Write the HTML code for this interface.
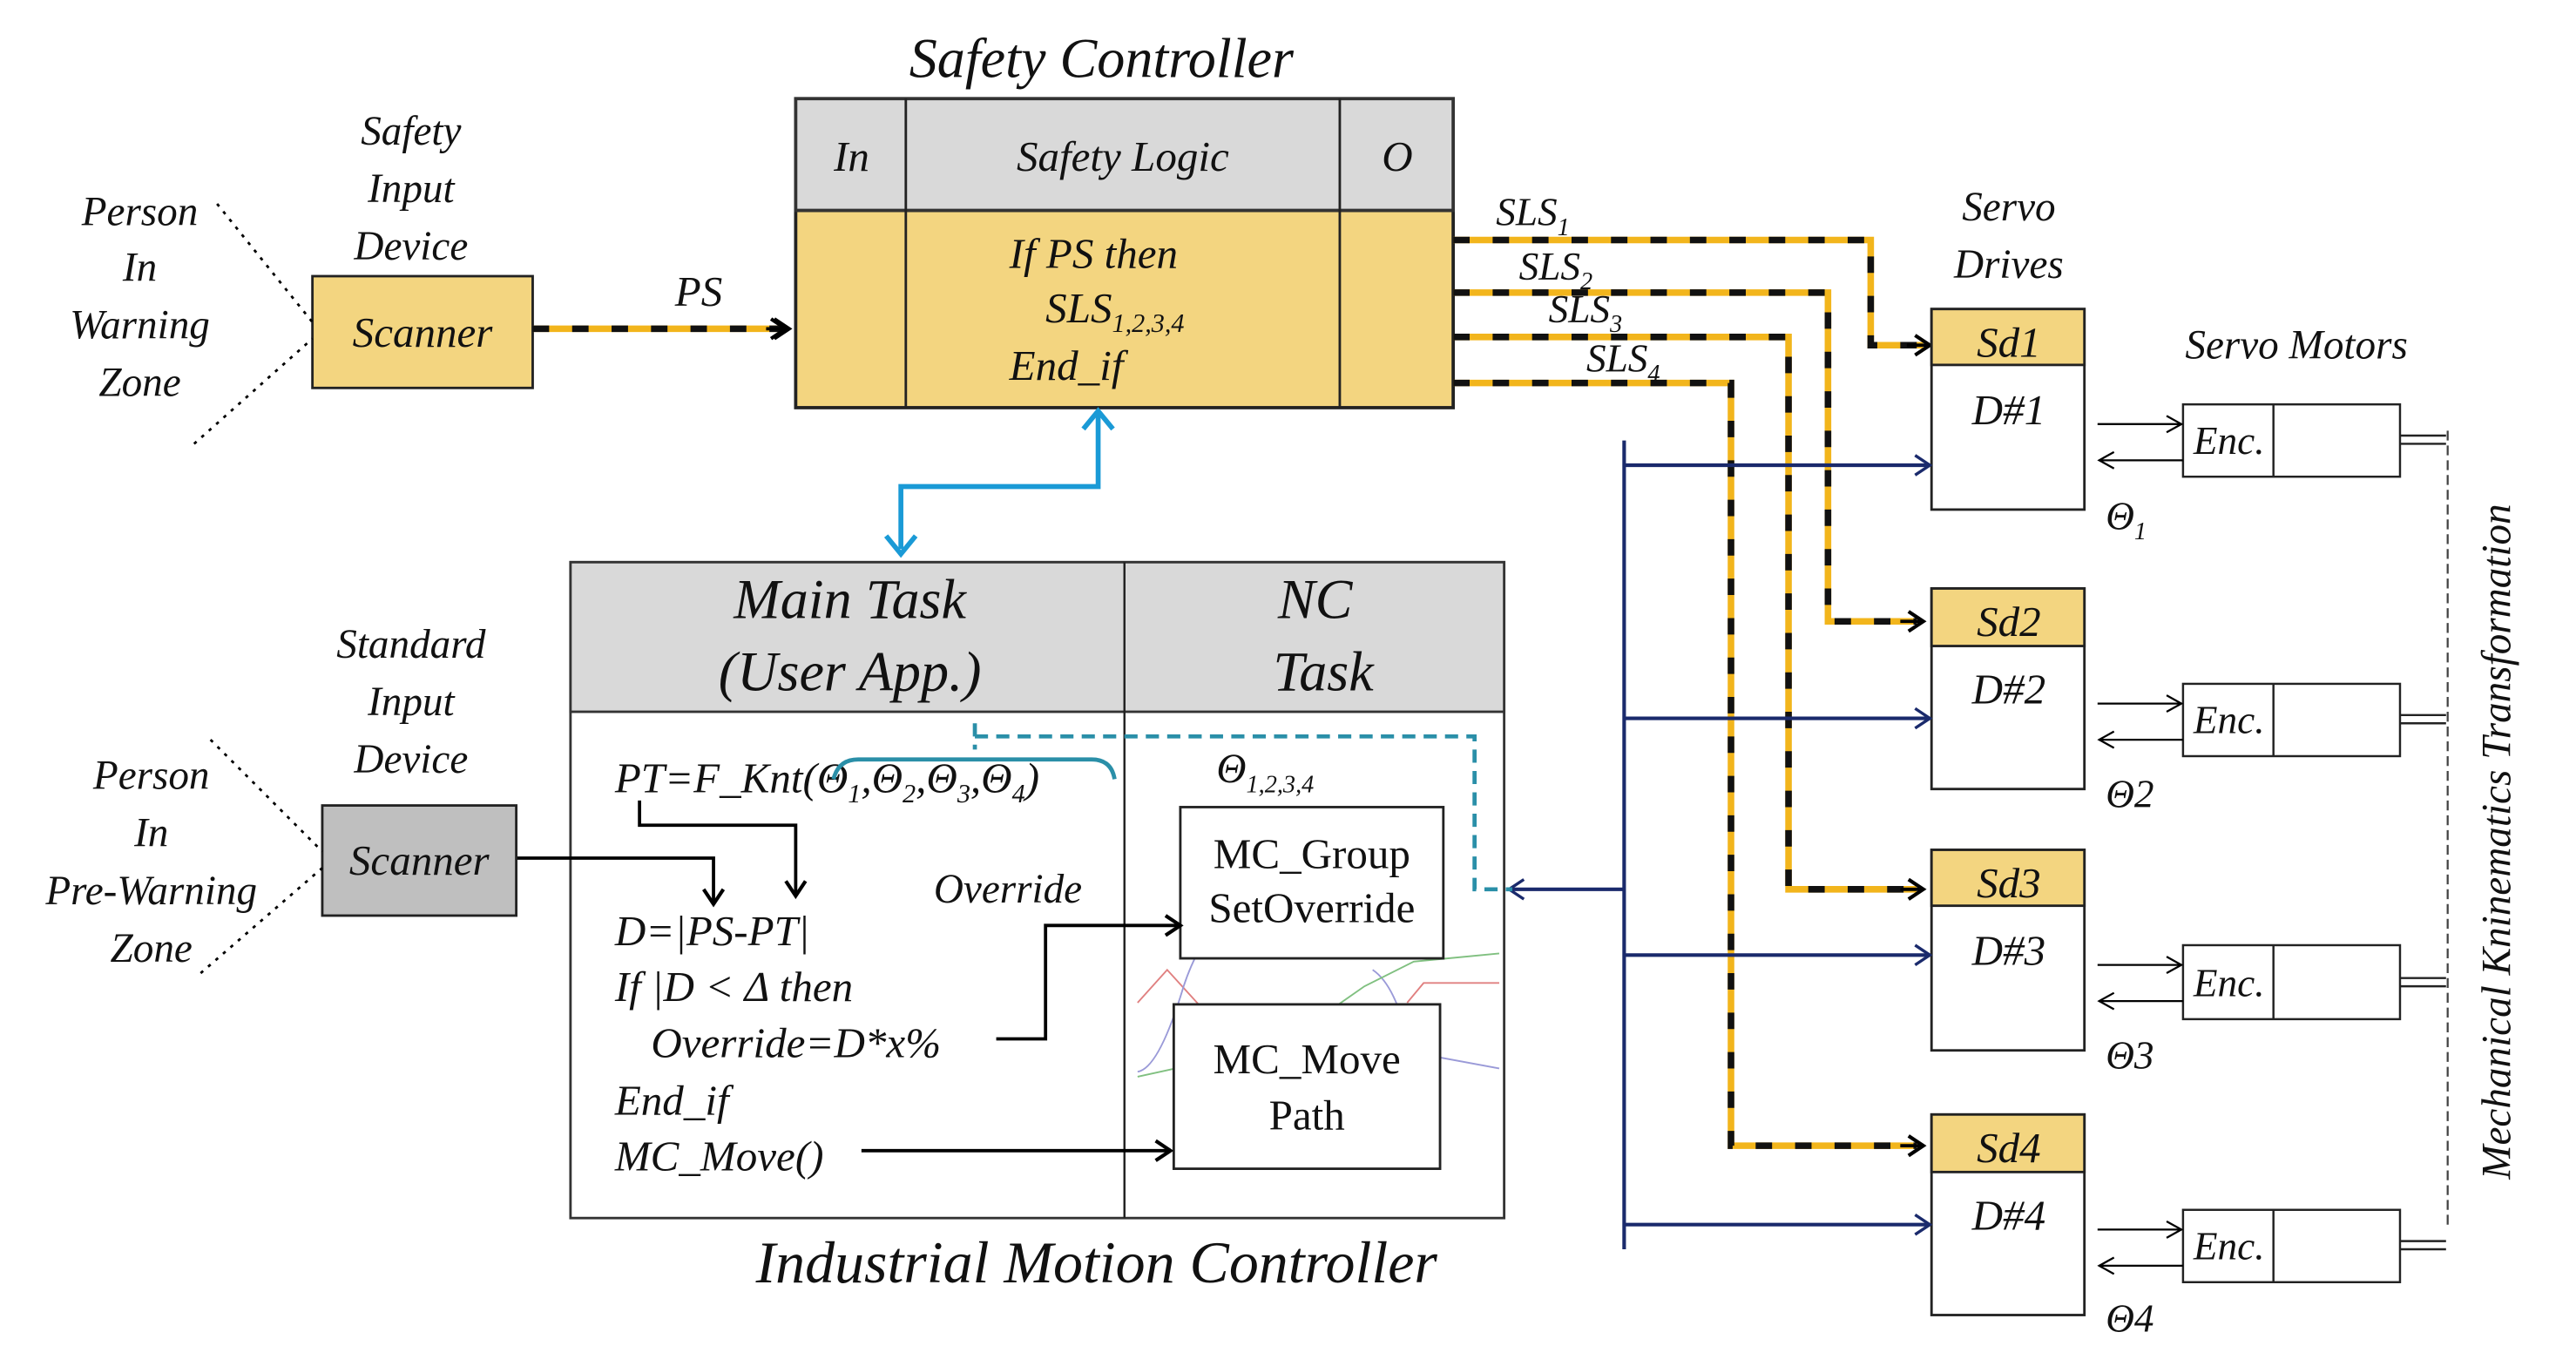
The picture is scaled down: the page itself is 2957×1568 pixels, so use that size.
<!DOCTYPE html>
<html><head><meta charset="utf-8"><style>html,body{margin:0;padding:0;background:#fff}svg{display:block}text{font-family:"Liberation Serif",serif;font-style:italic;fill:#111}</style></head><body>
<svg width="2957" height="1568" viewBox="0 0 1567 831" xmlns="http://www.w3.org/2000/svg">
<defs>
<marker id="ab" markerWidth="14" markerHeight="14" refX="11" refY="7" orient="auto" markerUnits="userSpaceOnUse"><path d="M2,1 L11,7 L2,13" fill="none" stroke="#000" stroke-width="2.2"/></marker>
<marker id="an" markerWidth="14" markerHeight="14" refX="11" refY="7" orient="auto" markerUnits="userSpaceOnUse"><path d="M2,1 L11,7 L2,13" fill="none" stroke="#1a2a6c" stroke-width="1.8"/></marker>
<marker id="ac" markerWidth="16" markerHeight="16" refX="8" refY="3" orient="auto-start-reverse" markerUnits="userSpaceOnUse"><path d="M1,11 L8,2 L15,11" fill="none" stroke="#1a9ad6" stroke-width="3" transform="rotate(90 8 8)"/></marker>
<marker id="ak" markerWidth="12" markerHeight="12" refX="10" refY="6" orient="auto" markerUnits="userSpaceOnUse"><path d="M1,1 L10,6 L1,11" fill="none" stroke="#000" stroke-width="1.2"/></marker>
</defs>

<!-- Safety controller -->
<text x="670" y="47" font-size="34" text-anchor="middle">Safety Controller</text>
<rect x="484" y="128" width="400" height="120" fill="#f3d580" stroke="#222" stroke-width="2"/>
<rect x="484" y="60" width="400" height="68" fill="#d9d9d9" stroke="#333" stroke-width="2"/>
<line x1="551" y1="60" x2="551" y2="248" stroke="#222" stroke-width="1.5"/>
<line x1="815" y1="60" x2="815" y2="248" stroke="#222" stroke-width="1.5"/>
<text x="518" y="104" font-size="26" text-anchor="middle">In</text>
<text x="683" y="104" font-size="26" text-anchor="middle">Safety Logic</text>
<text x="850" y="104" font-size="26" text-anchor="middle">O</text>
<text x="614" y="163" font-size="26">If PS then</text>
<text x="636" y="196" font-size="26">SLS<tspan font-size="16" dy="6">1,2,3,4</tspan></text>
<text x="614" y="231" font-size="26">End_if</text>

<!-- Safety input -->
<text x="250" y="88" font-size="25" text-anchor="middle">Safety</text>
<text x="250" y="123" font-size="25" text-anchor="middle">Input</text>
<text x="250" y="158" font-size="25" text-anchor="middle">Device</text>
<rect x="190" y="168" width="134" height="68" fill="#f3d580" stroke="#222" stroke-width="1.5"/>
<text x="257" y="211" font-size="26" text-anchor="middle">Scanner</text>
<text x="85" y="137" font-size="25" text-anchor="middle">Person</text>
<text x="85" y="171" font-size="25" text-anchor="middle">In</text>
<text x="85" y="206" font-size="25" text-anchor="middle">Warning</text>
<text x="85" y="241" font-size="25" text-anchor="middle">Zone</text>
<line x1="132" y1="124" x2="190" y2="196" stroke="#000" stroke-width="1.5" stroke-dasharray="2,4"/>
<line x1="118" y1="270" x2="190" y2="206" stroke="#000" stroke-width="1.5" stroke-dasharray="2,4"/>

<!-- PS line -->
<text x="425" y="186" font-size="26" text-anchor="middle">PS</text>
<g fill="none" stroke-width="4">
<path d="M324,200 H478" stroke="#f2b51c"/>
<path d="M324,200 H478" stroke="#111" stroke-dasharray="10,14"/>
<path d="M324,200 H478" stroke="none" marker-end="url(#ab)"/>
</g>
<line x1="466" y1="200" x2="480" y2="200" stroke="#000" stroke-width="2" marker-end="url(#ab)"/>

<!-- SLS lines -->
<g fill="none" stroke-width="4">
<path id="s1" d="M884,146 H1138 V210 H1170" stroke="#f2b51c"/>
<path d="M884,146 H1138 V210 H1170" stroke="#111" stroke-dasharray="10,14"/>
<path d="M884,178 H1112 V378 H1166" stroke="#f2b51c"/>
<path d="M884,178 H1112 V378 H1166" stroke="#111" stroke-dasharray="10,14"/>
<path d="M884,205 H1088 V541 H1166" stroke="#f2b51c"/>
<path d="M884,205 H1088 V541 H1166" stroke="#111" stroke-dasharray="10,14"/>
<path d="M884,233 H1053 V697 H1166" stroke="#f2b51c"/>
<path d="M884,233 H1053 V697 H1166" stroke="#111" stroke-dasharray="10,14"/>
</g>
<g stroke="#000" stroke-width="2">
<line x1="1160" y1="210" x2="1174" y2="210" marker-end="url(#ab)"/>
<line x1="1156" y1="378" x2="1170" y2="378" marker-end="url(#ab)"/>
<line x1="1156" y1="541" x2="1170" y2="541" marker-end="url(#ab)"/>
<line x1="1156" y1="697" x2="1170" y2="697" marker-end="url(#ab)"/>
</g>
<text x="910" y="137" font-size="24">SLS<tspan font-size="15" dy="6">1</tspan></text>
<text x="924" y="170" font-size="24">SLS<tspan font-size="15" dy="6">2</tspan></text>
<text x="942" y="196" font-size="24">SLS<tspan font-size="15" dy="6">3</tspan></text>
<text x="965" y="226" font-size="24">SLS<tspan font-size="15" dy="6">4</tspan></text>

<!-- Servo drives -->
<text x="1222" y="134" font-size="25" text-anchor="middle">Servo</text>
<text x="1222" y="169" font-size="25" text-anchor="middle">Drives</text>
<g stroke="#222" stroke-width="1.5">
<rect x="1175" y="188" width="93" height="122" fill="#fff"/><rect x="1175" y="188" width="93" height="34" fill="#f3d580"/>
<rect x="1175" y="358" width="93" height="122" fill="#fff"/><rect x="1175" y="358" width="93" height="35" fill="#f3d580"/>
<rect x="1175" y="517" width="93" height="122" fill="#fff"/><rect x="1175" y="517" width="93" height="34" fill="#f3d580"/>
<rect x="1175" y="678" width="93" height="122" fill="#fff"/><rect x="1175" y="678" width="93" height="35" fill="#f3d580"/>
</g>
<g font-size="26" text-anchor="middle">
<text x="1222" y="217">Sd1</text><text x="1222" y="258">D#1</text>
<text x="1222" y="387">Sd2</text><text x="1222" y="428">D#2</text>
<text x="1222" y="546">Sd3</text><text x="1222" y="587">D#3</text>
<text x="1222" y="707">Sd4</text><text x="1222" y="748">D#4</text>
</g>
<g font-size="24">
<text x="1281" y="322">Θ<tspan font-size="15" dy="6">1</tspan></text>
<text x="1281" y="491">Θ2</text>
<text x="1281" y="650">Θ3</text>
<text x="1281" y="810">Θ4</text>
</g>

<!-- Servo motors -->
<text x="1397" y="218" font-size="25" text-anchor="middle">Servo Motors</text>
<g stroke="#222" stroke-width="1.3" fill="#fff">
<rect x="1328" y="246" width="132" height="44"/><line x1="1383" y1="246" x2="1383" y2="290"/>
<rect x="1328" y="416" width="132" height="44"/><line x1="1383" y1="416" x2="1383" y2="460"/>
<rect x="1328" y="575" width="132" height="45"/><line x1="1383" y1="575" x2="1383" y2="620"/>
<rect x="1328" y="736" width="132" height="44"/><line x1="1383" y1="736" x2="1383" y2="780"/>
</g>
<g font-size="24" text-anchor="middle">
<text x="1356" y="276">Enc.</text><text x="1356" y="446">Enc.</text><text x="1356" y="606">Enc.</text><text x="1356" y="766">Enc.</text>
</g>
<g stroke="#222" stroke-width="1.3">
<line x1="1460" y1="265" x2="1488" y2="265"/><line x1="1460" y1="270" x2="1488" y2="270"/>
<line x1="1460" y1="435" x2="1488" y2="435"/><line x1="1460" y1="440" x2="1488" y2="440"/>
<line x1="1460" y1="595" x2="1488" y2="595"/><line x1="1460" y1="600" x2="1488" y2="600"/>
<line x1="1460" y1="755" x2="1488" y2="755"/><line x1="1460" y1="760" x2="1488" y2="760"/>
</g>
<line x1="1489" y1="262" x2="1489" y2="748" stroke="#444" stroke-width="1.2" stroke-dasharray="6,3"/>
<text transform="translate(1527,512) rotate(-90)" font-size="25" text-anchor="middle">Mechanical Kninematics Transformation</text>
<g stroke="#000" stroke-width="1.2">
<line x1="1276" y1="258" x2="1327" y2="258" marker-end="url(#ak)"/><line x1="1328" y1="280" x2="1277" y2="280" marker-end="url(#ak)"/>
<line x1="1276" y1="428" x2="1327" y2="428" marker-end="url(#ak)"/><line x1="1328" y1="450" x2="1277" y2="450" marker-end="url(#ak)"/>
<line x1="1276" y1="587" x2="1327" y2="587" marker-end="url(#ak)"/><line x1="1328" y1="609" x2="1277" y2="609" marker-end="url(#ak)"/>
<line x1="1276" y1="748" x2="1327" y2="748" marker-end="url(#ak)"/><line x1="1328" y1="770" x2="1277" y2="770" marker-end="url(#ak)"/>
</g>

<!-- Navy bus -->
<g stroke="#1a2a6c" stroke-width="2.2" fill="none">
<line x1="988" y1="268" x2="988" y2="760"/>
<line x1="988" y1="283" x2="1174" y2="283" marker-end="url(#an)"/>
<line x1="988" y1="437" x2="1174" y2="437" marker-end="url(#an)"/>
<line x1="988" y1="581" x2="1174" y2="581" marker-end="url(#an)"/>
<line x1="988" y1="745" x2="1174" y2="745" marker-end="url(#an)"/>
<line x1="988" y1="541" x2="918" y2="541" marker-end="url(#an)"/>
</g>

<!-- Blue bidirectional -->
<path d="M668,252 V296 H548 V334" fill="none" stroke="#1a9ad6" stroke-width="3"/>
<path d="M659,261 L668,250 L677,261" fill="none" stroke="#1a9ad6" stroke-width="3"/>
<path d="M539,326 L548,337 L557,326" fill="none" stroke="#1a9ad6" stroke-width="3"/>

<!-- Main table -->
<rect x="347" y="342" width="568" height="399" fill="#fff" stroke="#333" stroke-width="1.5"/>
<rect x="347" y="342" width="568" height="91" fill="#d9d9d9" stroke="#333" stroke-width="1.5"/>
<line x1="684" y1="342" x2="684" y2="741" stroke="#222" stroke-width="1.3"/>
<g font-size="34" text-anchor="middle">
<text x="517" y="376">Main Task</text><text x="517" y="420">(User App.)</text>
<text x="800" y="376">NC</text><text x="805" y="420">Task</text>
</g>
<!-- faint curves -->
<g fill="none" stroke-width="1">
<path d="M692,610 L710,590 L730,612 L750,635" stroke="#e08080"/>
<path d="M856,610 L866,598 L912,598" stroke="#e08080"/>
<path d="M692,652 Q705,650 720,600 Q730,570 745,560" stroke="#9a9ad8"/>
<path d="M835,590 Q850,600 858,640 L912,650" stroke="#9a9ad8"/>
<path d="M692,655 L715,650 M780,635 L830,600 L860,585 L912,580" stroke="#80c080"/>
</g>
<g font-size="26">
<text x="374" y="482">PT=F_Knt(Θ<tspan font-size="16" dy="6">1</tspan><tspan dy="-6">,Θ</tspan><tspan font-size="16" dy="6">2</tspan><tspan dy="-6">,Θ</tspan><tspan font-size="16" dy="6">3</tspan><tspan dy="-6">,Θ</tspan><tspan font-size="16" dy="6">4</tspan><tspan dy="-6">)</tspan></text>
<text x="374" y="575">D=|PS-PT|</text>
<text x="374" y="609">If |D &lt; Δ then</text>
<text x="396" y="643">Override=D*x%</text>
<text x="374" y="678">End_if</text>
<text x="374" y="712">MC_Move()</text>
<text x="568" y="549" font-size="25">Override</text>
<text x="740" y="476" font-size="25">Θ<tspan font-size="15" dy="6">1,2,3,4</tspan></text>
</g>
<g stroke="#222" stroke-width="1.5" fill="#fff">
<rect x="718" y="491" width="160" height="92"/>
<rect x="714" y="611" width="162" height="100"/>
</g>
<g font-size="26" text-anchor="middle" style="font-style:normal">
<text x="798" y="528" style="font-style:normal">MC_Group</text>
<text x="798" y="561" style="font-style:normal">SetOverride</text>
<text x="795" y="653" style="font-style:normal">MC_Move</text>
<text x="795" y="687" style="font-style:normal">Path</text>
</g>
<!-- teal bracket and dashed -->
<path d="M507,474 Q510,462 522,462 H664 Q676,462 678,474" fill="none" stroke="#2a8fa8" stroke-width="2.5"/>
<path d="M593,440 V456 M593,448 H897 V541 H920" fill="none" stroke="#2a8fa8" stroke-width="2.5" stroke-dasharray="8,5"/>
<!-- black arrows -->
<g fill="none" stroke="#000" stroke-width="2">
<path d="M314,522 H434 V550" marker-end="url(#ab)"/>
<path d="M389,487 V502 H484 V545" marker-end="url(#ab)"/>
<path d="M606,632 H636 V563 H718" marker-end="url(#ab)"/>
<path d="M524,700 H712" marker-end="url(#ab)"/>
</g>

<!-- Standard input -->
<text x="250" y="400" font-size="25" text-anchor="middle">Standard</text>
<text x="250" y="435" font-size="25" text-anchor="middle">Input</text>
<text x="250" y="470" font-size="25" text-anchor="middle">Device</text>
<rect x="196" y="490" width="118" height="67" fill="#bfbfbf" stroke="#222" stroke-width="1.5"/>
<text x="255" y="532" font-size="26" text-anchor="middle">Scanner</text>
<text x="92" y="480" font-size="25" text-anchor="middle">Person</text>
<text x="92" y="515" font-size="25" text-anchor="middle">In</text>
<text x="92" y="550" font-size="25" text-anchor="middle">Pre-Warning</text>
<text x="92" y="585" font-size="25" text-anchor="middle">Zone</text>
<line x1="128" y1="450" x2="196" y2="518" stroke="#000" stroke-width="1.5" stroke-dasharray="2,4"/>
<line x1="122" y1="592" x2="196" y2="528" stroke="#000" stroke-width="1.5" stroke-dasharray="2,4"/>

<text x="667" y="780" font-size="36" text-anchor="middle">Industrial Motion Controller</text>
</svg>
</body></html>
